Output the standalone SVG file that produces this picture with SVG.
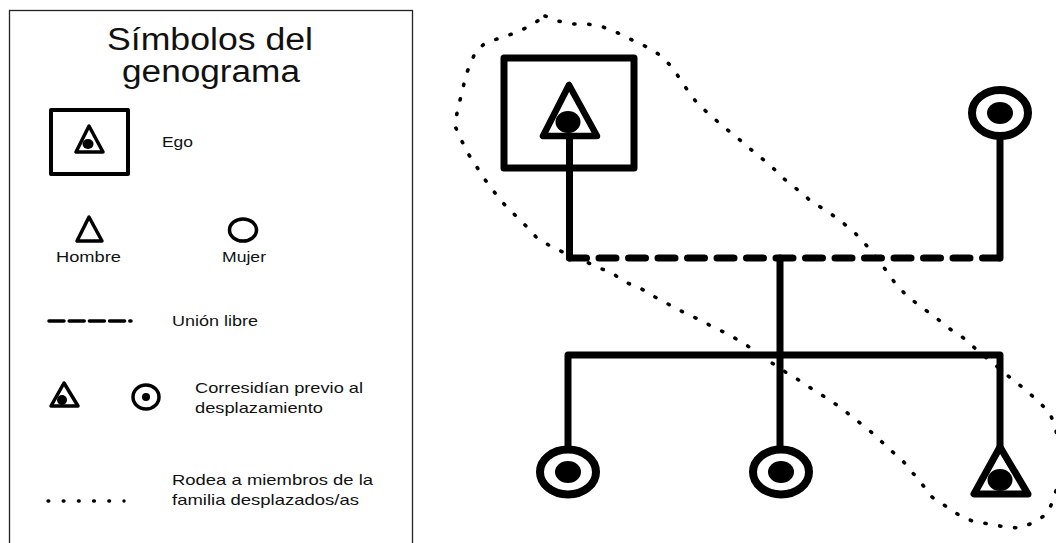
<svg xmlns="http://www.w3.org/2000/svg" width="1056" height="543" viewBox="0 0 1056 543">
<style>
  .t{font-family:"Liberation Sans",Arial,sans-serif;fill:#111;}
  .lt{font-size:15px;}
  .title{font-size:31px;}
  .sym{fill:none;stroke:#000;stroke-linejoin:round;}
  .dot{fill:#000;stroke:none;}
  .line{fill:none;stroke:#000;stroke-width:7;stroke-linejoin:round;stroke-linecap:round;}
  .dash{fill:none;stroke:#000;stroke-width:7;stroke-linecap:round;stroke-dasharray:17 12.5;}
  .dotted{fill:none;stroke:#000;stroke-width:3.6;stroke-linecap:round;stroke-dasharray:1.2 13.8;}
</style>
<rect width="1056" height="543" fill="#fff"/>

<g id="legend">
  <rect x="9.5" y="10.5" width="403" height="560" fill="none" stroke="#222" stroke-width="1.3"/>
  <text class="t title" x="210" y="50" text-anchor="middle" textLength="206" lengthAdjust="spacingAndGlyphs">Símbolos del</text>
  <text class="t title" x="211" y="82" text-anchor="middle" textLength="178" lengthAdjust="spacingAndGlyphs">genograma</text>

  <g id="legend-ego">
    <rect x="51" y="110" width="77" height="64" class="sym" stroke-width="4"/>
    <polygon points="89,126 76,152 103,152" class="sym" stroke-width="3.5"/>
    <ellipse cx="88" cy="144" rx="5.5" ry="5" class="dot"/>
    <text class="t lt" x="162" y="147" textLength="31" lengthAdjust="spacingAndGlyphs">Ego</text>
  </g>
  <g id="legend-hombre">
    <polygon points="89,217 77,241 102,241" class="sym" stroke-width="3.5"/>
    <text class="t lt" x="56" y="262" textLength="65" lengthAdjust="spacingAndGlyphs">Hombre</text>
  </g>
  <g id="legend-mujer">
    <ellipse cx="243" cy="230" rx="13.5" ry="11" class="sym" stroke-width="3.5"/>
    <text class="t lt" x="222" y="262" textLength="44" lengthAdjust="spacingAndGlyphs">Mujer</text>
  </g>
  <g id="legend-union">
    <line x1="49" y1="321" x2="131" y2="321" fill="none" stroke="#000" stroke-width="3.5" stroke-linecap="round" stroke-dasharray="15 5.2"/>
    <text class="t lt" x="172" y="326" textLength="86" lengthAdjust="spacingAndGlyphs">Unión libre</text>
  </g>
  <g id="legend-corresiden">
    <polygon points="64,383 51,406 78,406" class="sym" stroke-width="3.5"/>
    <ellipse cx="62" cy="400" rx="5" ry="5" class="dot"/>
    <ellipse cx="146" cy="397" rx="13" ry="12" class="sym" stroke-width="3.5"/>
    <circle cx="146" cy="397" r="4" class="dot"/>
    <text class="t lt" x="195" y="393" textLength="168" lengthAdjust="spacingAndGlyphs">Corresidían previo al</text>
    <text class="t lt" x="195" y="413" textLength="128" lengthAdjust="spacingAndGlyphs">desplazamiento</text>
  </g>
  <g id="legend-desplazados">
    <line x1="48" y1="501" x2="124" y2="501" fill="none" stroke="#000" stroke-width="3.4" stroke-linecap="round" stroke-dasharray="0.8 14.4"/>
    <text class="t lt" x="172" y="485" textLength="201" lengthAdjust="spacingAndGlyphs">Rodea a miembros de la</text>
    <text class="t lt" x="172" y="505" textLength="187" lengthAdjust="spacingAndGlyphs">familia desplazados/as</text>
  </g>
</g>

<g id="connectors">
  <line class="line" x1="569.5" y1="136" x2="569.5" y2="258"/>
  <line class="line" x1="1000" y1="137" x2="1000" y2="258"/>
  <line class="dash" x1="569.5" y1="258" x2="1000" y2="258"/>
  <line class="line" x1="780" y1="258" x2="780" y2="447"/>
  <polyline class="line" points="568,447 568,355 1000,355 1000,447"/>
</g>

<g id="displaced-outline">
  <path class="dotted" d="M545,16 L558,21 L573,24 L587,24 L603,27 L618,33 L632,40 L647,47 L660,55 L672,67 L680,79 L688,91 L697,103 L710,115 L725,128 L740,140 L755,153 L770,165 L783,178 L798,190 L812,202 L827,211 L842,222 L855,233 L867,246 L880,262 L895,283 L907,296 L920,306 L935,317 L950,329 L965,339 L978,351 L993,363 L1007,375 L1022,387 L1037,400 L1050,413 L1056,430 L1060,460 L1057,488 L1053,500 L1048,513 L1035,522 L1020,528 L1005,527 L990,524 L975,522 L962,517 L947,507 L932,497 L922,484 L912,472 L902,460 L888,448 L875,435 L860,423 L845,411 L830,400 L815,391 L802,382 L787,373 L772,363 L757,352 L743,343 L728,334 L713,327 L698,319 L683,312 L670,305 L655,297 L640,288 L625,282 L612,273 L597,267 L582,260 L567,254 L552,247 L537,238 L527,227 L513,213 L502,202 L492,189 L483,177 L475,164 L467,152 L460,137 L455,126 L457,113 L460,100 L463,89 L465,77 L470,65 L475,53 L485,43 L500,38 L515,33 L530,26 Z"/>
</g>

<g id="ego">
  <rect x="504" y="58" width="130" height="110" class="sym" stroke-width="7"/>
  <polygon points="569,85 543,136 597,136" class="sym" stroke-width="6.5"/>
  <ellipse cx="568" cy="122" rx="12.5" ry="11" class="dot"/>
</g>

<g id="mujer-pareja">
  <ellipse cx="1000" cy="113" rx="28" ry="23" class="sym" stroke-width="8"/>
  <ellipse cx="1000" cy="113" rx="13" ry="11" class="dot"/>
</g>

<g id="hija-1">
  <ellipse cx="568" cy="472" rx="28" ry="22.5" class="sym" stroke-width="8"/>
  <ellipse cx="568" cy="472" rx="13" ry="11" class="dot"/>
</g>

<g id="hija-2">
  <ellipse cx="781" cy="472" rx="28" ry="22.5" class="sym" stroke-width="8"/>
  <ellipse cx="781" cy="472" rx="13" ry="11" class="dot"/>
</g>

<g id="hijo">
  <polygon points="1000,447 974,494 1028,494" class="sym" stroke-width="7"/>
  <ellipse cx="1000" cy="480" rx="12.5" ry="11" class="dot"/>
</g>
</svg>
